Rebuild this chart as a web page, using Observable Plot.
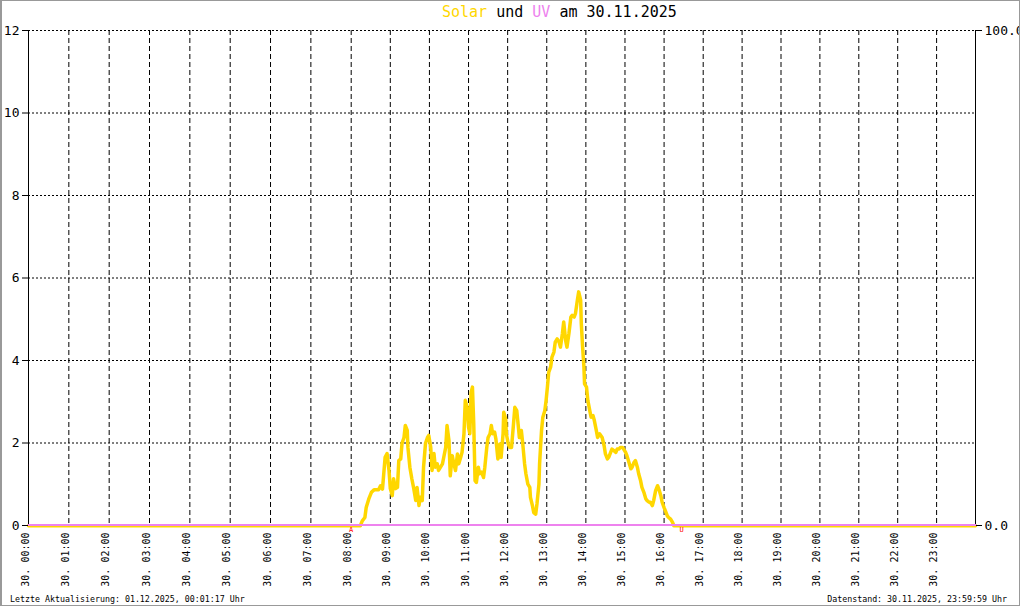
<!DOCTYPE html>
<html>
<head>
<meta charset="utf-8">
<script src="https://cdn.jsdelivr.net/npm/d3@7"></script>
<script src="https://cdn.jsdelivr.net/npm/@observablehq/plot@0.6"></script>
<style>
  html, body { margin: 0; padding: 0; background: #fff; }
  #wrap { position: relative; width: 1020px; height: 606px; overflow: hidden; background: #fff; font-family: "DejaVu Sans Mono", monospace; }
  #chart { position: absolute; left: 0; top: 0; }
  #frame { position: absolute; left: 0; top: 0; width: 1020px; height: 606px; box-sizing: border-box; border: 1px solid #999; border-left-width: 2px; pointer-events: none; }
  #title { position: absolute; left: 442px; top: 5px; font-size: 15px; line-height: 15px; white-space: pre; color: #000; }
  .foot { position: absolute; top: 595px; font-size: 8.3px; line-height: 8.3px; white-space: pre; color: #000; }
</style>
</head>
<body>
<div id="wrap">
  <div id="chart"></div>
  <div id="title"><span style="color:#ffd700">Solar</span> und <span style="color:#ee82ee">UV</span> am 30.11.2025</div>
  <div class="foot" style="left:10px">Letzte Aktualisierung: 01.12.2025, 00:01:17 Uhr</div>
  <div class="foot" style="right:13px">Datenstand: 30.11.2025, 23:59:59 Uhr</div>
  <div id="frame"></div>
</div>
<script>
// ---- data ----
const dayLabel = "30.";
const hourLabels = ["00:00","01:00","02:00","03:00","04:00","05:00","06:00","07:00","08:00","09:00","10:00","11:00",
                    "12:00","13:00","14:00","15:00","16:00","17:00","18:00","19:00","20:00","21:00","22:00","23:00"];
const yTicks = [0, 2, 4, 6, 8, 10, 12];
const yMax = 12;
const uvTicks = [0, 100];
const uvMax = 100;

const solarTimes = ["00:00","08:14","08:17","08:21","08:23","08:27","08:31","08:35","08:42","08:45","08:48","08:52","08:55","08:58",
  "09:00","09:03","09:05","09:08","09:11","09:13","09:16","09:18","09:21","09:23","09:26","09:27","09:30","09:33","09:36","09:39",
  "09:41","09:44","09:46","09:49","09:51","09:54","09:57","09:59","10:02","10:04","10:07","10:09","10:12","10:14","10:17","10:20",
  "10:22","10:25","10:27","10:30","10:32","10:35","10:37","10:40","10:43","10:45","10:48","10:50","10:53","10:55","10:58","11:00",
  "11:02","11:04","11:06","11:08","11:10","11:12","11:15","11:17","11:20","11:23","11:25","11:28","11:30","11:33","11:35","11:37",
  "11:40","11:42","11:45","11:48","11:50","11:53","11:54","11:57","11:58","12:01","12:03","12:06","12:09","12:11","12:14","12:16",
  "12:18","12:21","12:23","12:26","12:28","12:31","12:34","12:35","12:38","12:40","12:43","12:45","12:48","12:49","12:52","12:54",
  "12:57","12:59","13:01","13:03","13:06","13:08","13:11","13:13","13:16","13:19","13:21","13:24","13:26","13:29","13:31","13:34",
  "13:37","13:39","13:42","13:44","13:47","13:49","13:52","13:53","13:55","13:57","13:58","14:01","14:03","14:06","14:08","14:11",
  "14:13","14:16","14:18","14:21","14:25","14:28","14:30","14:33","14:35","14:38","14:40","14:43","14:46","14:48","14:51","14:53",
  "14:56","14:58","15:01","15:03","15:06","15:09","15:11","15:14","15:16","15:19","15:21","15:24","15:26","15:29","15:32","15:34",
  "15:37","15:39","15:42","15:44","15:47","15:50","15:52","15:55","15:57","16:00","16:02","16:05","16:07","16:10","16:13","16:15","24:00"];
const solarValues = [0,0,0.12,0.2,0.44,0.65,0.81,0.87,0.87,0.97,0.89,1.66,1.75,1.34,
  0.9,0.73,1.14,0.9,0.93,1.58,1.62,2.0,2.14,2.43,2.31,1.9,1.42,1.14,0.9,0.61,
  0.93,0.49,0.69,0.61,1.42,2.0,2.14,2.19,1.9,1.34,1.75,1.42,1.5,1.34,1.42,1.5,
  1.66,1.9,2.43,2.06,1.21,1.7,1.54,1.34,1.74,1.5,1.66,1.78,2.23,3.04,2.87,2.39,
  2.23,3.24,3.36,2.47,1.09,1.05,1.42,1.26,1.3,1.17,1.42,1.9,2.14,2.23,2.43,2.23,
  2.27,2.1,1.62,1.98,1.66,2.23,2.75,2.59,2.23,1.98,1.9,1.9,2.47,2.87,2.79,2.47,
  2.14,2.31,2.02,1.5,1.26,1.01,0.93,0.69,0.49,0.32,0.28,0.53,1.01,1.5,2.31,2.63,
  2.79,3.04,3.36,3.72,3.85,4.09,4.21,4.45,4.53,4.45,4.33,4.66,4.94,4.49,4.33,4.66,
  5.06,5.1,5.06,5.14,5.47,5.67,5.47,4.9,4.33,3.85,3.44,3.36,3.04,2.79,2.63,2.67,
  2.55,2.31,2.14,2.23,2.14,1.94,1.74,1.62,1.66,1.78,1.86,1.82,1.78,1.86,1.86,1.9,
  1.9,1.86,1.78,1.7,1.54,1.38,1.42,1.54,1.58,1.42,1.26,1.09,0.93,0.81,0.65,0.61,
  0.57,0.57,0.49,0.61,0.85,0.97,0.89,0.73,0.57,0.44,0.36,0.24,0.2,0.16,0.08,0,0];

const uvTimes = ["00:00", "24:00"];
const uvValues = [0, 0];

const sunTimes = ["08:00", "16:27"];
const sunLabels = ["A", "U"];

// ---- build ----
const parseT = s => { const [h, m] = s.split(":").map(Number); return h + m / 60; };
const solar = solarTimes.map((t, i) => ({t: parseT(t), v: solarValues[i]}));
const uv = uvTimes.map((t, i) => ({t: parseT(t), v: uvValues[i]}));
const hours = hourLabels.map(parseT);

const chart = Plot.plot({
  width: 1020,
  height: 606,
  marginLeft: 28,
  marginRight: 45,
  marginTop: 30,
  marginBottom: 81,
  style: {fontFamily: "DejaVu Sans Mono", fontSize: "13px", background: "transparent", color: "black"},
  x: {type: "linear", domain: [0, 8, 17, 24], range: [28, 350.7, 702.7, 975], axis: null},
  y: {domain: [0, yMax], range: [525, 30], axis: null},
  marks: [
    Plot.ruleY(yTicks.filter(d => d > 0), {stroke: "black", strokeDasharray: "2,2"}),
    Plot.ruleX(hours.filter(d => d > 0), {stroke: "black", strokeDasharray: "5,3"}),
    Plot.ruleX([0, 24], {stroke: "black"}),
    Plot.line(solar, {x: "t", y: "v", stroke: "#ffd700", strokeWidth: 3.5, dy: 0.25}),
    Plot.line(uv, {x: "t", y: "v", stroke: "#ee82ee", strokeWidth: 2, dy: -0.5}),
    Plot.axisY({ticks: yTicks, tickSize: 6, tickPadding: 3, tickFormat: d => String(d), label: null}),
    Plot.axisY({anchor: "right", ticks: uvTicks.map(u => u / uvMax * yMax),
                tickFormat: d => (d / yMax * uvMax).toFixed(1), tickSize: 6, tickPadding: 3, label: null}),
    Plot.text(hours, {x: d => d, frameAnchor: "bottom", text: (d, i) => `${dayLabel} ${hourLabels[i]}`,
                      rotate: -90, textAnchor: "end", dy: 7, fontSize: 10}),
    Plot.text(sunTimes, {x: d => parseT(d), frameAnchor: "bottom", text: (d, i) => sunLabels[i],
                         fill: "red", fontSize: 7, dy: 6})
  ]
});
document.getElementById("chart").appendChild(chart);
</script>
</body>
</html>
